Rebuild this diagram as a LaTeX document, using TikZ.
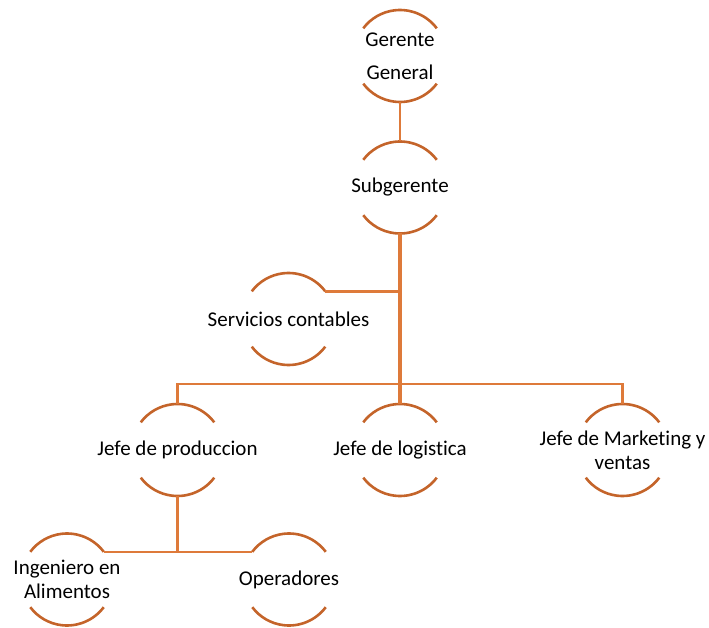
\documentclass[tikz,border=0pt]{standalone}
\usepackage{fontspec}
\setmainfont{Carlito}[Ligatures=NoCommon]
\definecolor{arcc}{RGB}{196,100,42}
\definecolor{connc}{RGB}{222,122,58}
\newcommand\Rad{46}
\tikzset{
  unittext/.style={align=center, inner sep=0pt, font=\fontsize{21}{24}\selectfont, text=black},
  arcline/.style={draw=arcc, line width=2.6pt},
  conn/.style={draw=connc, line width=2.6pt},
  thickconn/.style={draw=connc, line width=4pt},
  midconn/.style={draw=connc, line width=3.2pt},
  thinconn/.style={draw=connc, line width=2pt}
}
\newcommand\orgunit[4]{%
  \node[unittext] (#1) at (#2,-#3) {#4};
  \draw[arcline] ([shift={(37:\Rad)}]#1.center) arc[start angle=37,end angle=143,radius=\Rad];
  \draw[arcline] ([shift={(-37:\Rad)}]#1.center) arc[start angle=-37,end angle=-143,radius=\Rad];
  \coordinate (#1-t) at ([shift={(90:\Rad)}]#1.center);
  \coordinate (#1-b) at ([shift={(-90:\Rad)}]#1.center);
  \coordinate (#1-tl) at ([shift={(143:\Rad)}]#1.center);
  \coordinate (#1-tr) at ([shift={(37:\Rad)}]#1.center);
}
\begin{document}
\begin{tikzpicture}[x=1pt,y=1pt]
\useasboundingbox (0,0) rectangle (709,-628);
\orgunit{gg}{400}{56}{Gerente\\[9pt]General}
\orgunit{sg}{400}{187.5}{Subgerente}
\orgunit{sc}{288.5}{319}{Servicios contables}
\orgunit{jp}{177.5}{450}{Jefe de produccion}
\orgunit{jl}{400}{450}{Jefe de logistica}
\orgunit{jm}{622.5}{450}{Jefe de Marketing y\\ventas}
\orgunit{ia}{67}{579.5}{Ingeniero en\\Alimentos}
\orgunit{op}{289}{579.5}{Operadores}
% connectors
\coordinate (bar) at (400,-384);
\coordinate (bar2) at (177.5,-551);
\draw[thinconn] (gg-b) -- (sg-t);
\draw[thickconn] (sg-b) -- (jl-t);
\draw[conn] (sc-tr) -- (sc-tr -| sg-b);
\draw[conn] (jp-t) |- (bar) -| (jm-t);
\draw[midconn] (jp-b) -- (bar2);
\draw[conn] (ia-tr) -- (op-tl);
\end{tikzpicture}
\end{document}
